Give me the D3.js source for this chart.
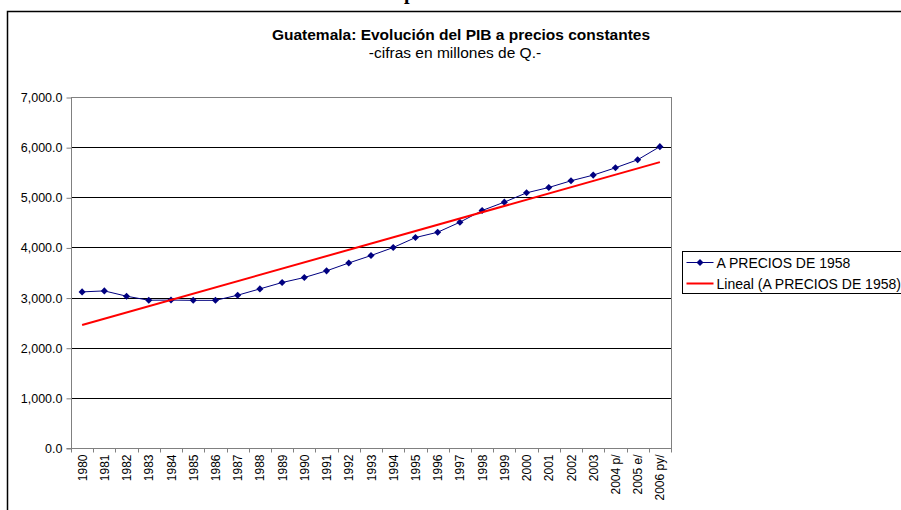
<!DOCTYPE html>
<html>
<head>
<meta charset="utf-8">
<style>
  body { margin: 0; background: #fff; }
  svg { font-family: "Liberation Sans", Arial, sans-serif; }
</style>
</head>
<body>
<svg id="svg" width="901" height="510"></svg>
<script src="https://d3js.org/d3.v7.min.js"></script>
<script>

// ----------------------------------------------------------------------------
//                               DATA
// ----------------------------------------------------------------------------
var years = ["1980", "1981", "1982", "1983", "1984", "1985", "1986", "1987",
             "1988", "1989", "1990", "1991", "1992", "1993", "1994", "1995",
             "1996", "1997", "1998", "1999", "2000", "2001", "2002", "2003",
             "2004 p/", "2005 e/", "2006 py/"];

// PIB a precios de 1958 (millones de Q.)
var pib = [3113, 3133, 3027, 2947, 2950, 2945, 2945, 3047,
           3173, 3300, 3400, 3533, 3690, 3838, 3998, 4197,
           4303, 4503, 4736, 4903, 5089, 5195, 5329, 5442,
           5588, 5748, 6010];

var yTicks = [0, 1000, 2000, 3000, 4000, 5000, 6000, 7000];

var seriesName = "A PRECIOS DE 1958";
var trendName = "Lineal (A PRECIOS DE 1958)";

// ----------------------------------------------------------------------------
//                               FUNCTIONS
// ----------------------------------------------------------------------------
// Least squares line over the category index.
function linearFit(vals) {
  var n = vals.length, sx = 0, sy = 0, sxy = 0, sxx = 0;
  vals.forEach(function(v, i) { sx += i; sy += v; sxy += i * v; sxx += i * i; });
  var b = (n * sxy - sx * sy) / (n * sxx - sx * sx);
  var a = (sy - b * sx) / n;
  return function(i) { return a + b * i; };
}

var svg = d3.select("#svg");

// Outer chart frame (cut by the window)
svg.append("rect")
    .attr("x", 7.5).attr("y", 11.5)
    .attr("width", 960).attr("height", 560)
    .attr("fill", "none").attr("stroke", "#000").attr("stroke-width", 1.5);

// Piece of heading above the frame
svg.append("text")
    .attr("x", 404).attr("y", -1.5)
    .style("font-family", "'Liberation Serif', serif")
    .style("font-weight", "bold").style("font-size", "20px")
    .text("p");

// Titles
svg.append("text")
    .attr("x", 461).attr("y", 40)
    .attr("text-anchor", "middle")
    .style("font-weight", "bold").style("font-size", "15.5px")
    .text("Guatemala: Evolución del PIB a precios constantes");

svg.append("text")
    .attr("x", 455).attr("y", 58)
    .attr("text-anchor", "middle")
    .style("font-size", "15.5px")
    .text("-cifras en millones de Q.-");

// Plot area
var plot = { left: 71, top: 97, right: 671, bottom: 448 };

var x = d3.scaleBand()
    .domain(years)
    .range([plot.left, plot.right]);

var y = d3.scaleLinear()
    .domain([0, 7000])
    .range([plot.bottom, plot.top]);

var cx = function(d, i) { return x(years[i]) + x.bandwidth() / 2; };

// Gridlines
svg.append("g")
    .selectAll("line")
    .data(yTicks.filter(function(t) { return t > 0; }))
    .enter().append("line")
    .attr("x1", plot.left).attr("x2", plot.right)
    .attr("y1", function(d) { return Math.round(y(d)) + 0.5; })
    .attr("y2", function(d) { return Math.round(y(d)) + 0.5; })
    .attr("stroke", function(d) { return d === 7000 ? "#808080" : "#000"; });

// Right border of plot
svg.append("line")
    .attr("x1", plot.right + 0.5).attr("x2", plot.right + 0.5)
    .attr("y1", plot.top).attr("y2", plot.bottom)
    .attr("stroke", "#808080");

// Y axis
var yAxis = svg.append("g")
    .attr("transform", "translate(" + (plot.left + 0.5) + ",0.5)")
    .call(d3.axisLeft(y).tickValues(yTicks).tickSize(5).tickPadding(4)
            .tickFormat(d3.format(",.1f")));
yAxis.selectAll("path, line").attr("stroke", "#808080");
yAxis.selectAll("text").style("font-size", "12.5px")
    .style("font-family", "'Liberation Sans', Arial, sans-serif").attr("fill", "#000");
yAxis.select(".domain").attr("d", "M-5," + y(0) + "H0V" + plot.top);

// X axis: ticks on category boundaries
var xAxis = svg.append("g")
    .attr("transform", "translate(0," + (plot.bottom + 0.5) + ")");
xAxis.append("line")
    .attr("x1", plot.left).attr("x2", plot.right + 1)
    .attr("stroke", "#808080");
xAxis.selectAll(".tk")
    .data(years.concat(["end"]))
    .enter().append("line")
    .attr("class", "tk")
    .attr("x1", function(d, i) { return Math.round(plot.left + i * x.step()) + 0.5; })
    .attr("x2", function(d, i) { return Math.round(plot.left + i * x.step()) + 0.5; })
    .attr("y1", 0).attr("y2", 4)
    .attr("stroke", "#808080");
xAxis.selectAll(".lbl")
    .data(years)
    .enter().append("text")
    .attr("class", "lbl")
    .attr("transform", function(d, i) {
      return "translate(" + (cx(d, i) + 4.5) + ",6) rotate(-90)"; })
    .attr("text-anchor", "end")
    .style("font-size", "12px")
    .text(function(d) { return d; });

// Series line
var line = d3.line()
    .x(function(d, i) { return cx(d, i); })
    .y(function(d) { return y(d); });

svg.append("path")
    .datum(pib)
    .attr("d", line)
    .attr("fill", "none")
    .attr("stroke", "#000080")
    .attr("stroke-width", 1);

var diamond = d3.symbol().type(d3.symbolDiamond2).size(32);

svg.append("g")
    .selectAll("path")
    .data(pib)
    .enter().append("path")
    .attr("d", diamond)
    .attr("transform", function(d, i) {
      return "translate(" + cx(d, i) + "," + y(d) + ")"; })
    .attr("fill", "#000080");

// Linear trend
var fit = linearFit(pib);
var last = pib.length - 1;
svg.append("line")
    .attr("x1", cx(null, 0)).attr("y1", y(fit(0)))
    .attr("x2", cx(null, last)).attr("y2", y(fit(last)))
    .attr("stroke", "#ff0000")
    .attr("stroke-width", 2);

// Legend
var legend = svg.append("g").attr("transform", "translate(682.5,251.5)");
legend.append("rect")
    .attr("width", 240).attr("height", 42)
    .attr("fill", "#fff").attr("stroke", "#000");

var le1 = legend.append("g").attr("transform", "translate(0,11)");
le1.append("line").attr("x1", 4).attr("x2", 31).attr("stroke", "#000080");
le1.append("path").attr("d", diamond).attr("transform", "translate(17.5,0)")
    .attr("fill", "#000080");
le1.append("text").attr("x", 34).attr("y", 5)
    .style("font-size", "14px").text(seriesName);

var le2 = legend.append("g").attr("transform", "translate(0,32)");
le2.append("line").attr("x1", 4).attr("x2", 31)
    .attr("stroke", "#ff0000").attr("stroke-width", 2);
le2.append("text").attr("x", 34).attr("y", 5)
    .style("font-size", "14px").text(trendName);

</script>
</body>
</html>
